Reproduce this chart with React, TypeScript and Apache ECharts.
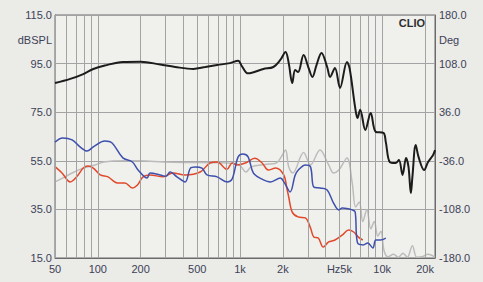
import React, { useEffect, useRef } from "react";
import * as echarts from "echarts";

// Frequency (Hz) / level (dBSPL) pairs
const blackFreq = [50, 64, 79, 93, 112, 150, 200, 275, 350, 470, 570, 690, 850, 970, 1030, 1140, 1460, 1715, 1920, 2090, 2200, 2330, 2440, 2560, 2800, 3020, 3230, 3450, 3740, 4100, 4300, 4650, 5050, 5650, 5900, 6450, 6700, 7000, 7600, 8300, 9000, 10200, 10600, 11300, 12400, 13100, 13900, 14700, 15300, 15900, 16300, 17200, 18000, 19700, 21000, 22800, 23500];
const blackVal = [87, 88.7, 90.7, 92.8, 94.2, 95.7, 95.8, 94.6, 93.6, 92.8, 93.6, 94.4, 95.2, 96.2, 94, 91, 92.8, 93.6, 96.5, 99.8, 95.2, 87, 92.4, 91.5, 98.5, 93.6, 89.5, 94.4, 99.4, 93.6, 89.5, 93.2, 85, 95.7, 93, 77, 72.6, 76, 67.7, 74.7, 66.9, 66.5, 62.7, 54.5, 54.1, 55.3, 49.2, 56.2, 52.5, 41.7, 48.4, 61.5, 56.6, 51.2, 54.5, 57.4, 59.4];

const blueFreq = [50, 56.5, 66, 75, 84, 93, 112, 126, 150, 175, 192, 222, 233, 275, 300, 323, 360, 411, 448, 485, 540, 585, 690, 810, 880, 970, 1050, 1140, 1240, 1380, 1640, 1920, 2050, 2250, 2440, 2570, 2880, 3130, 3300, 3650, 4100, 4550, 4950, 5250, 6150, 6450, 6700, 7350, 7900, 8600, 9000, 9700, 10600];
const blueVal = [62.7, 64.4, 63.6, 60.7, 59, 60.7, 63.1, 62.3, 56.2, 54.5, 51.2, 47.9, 50, 49.2, 48.6, 50.4, 48.4, 46.3, 52, 52.5, 52, 49.2, 48.4, 46.3, 47.5, 56.6, 57.8, 56.6, 50, 47.9, 46.3, 47.9, 46, 42.2, 49, 51.2, 53.3, 52.5, 44.2, 43.8, 43, 37.6, 34.8, 35.6, 34.8, 34, 21.2, 20.4, 21.2, 19.1, 22.4, 22.4, 23.2];

const redFreq = [50, 56, 64, 71, 79, 85, 93, 104, 118, 137, 155, 175, 190, 208, 233, 288, 337, 411, 525, 615, 690, 810, 880, 950, 1090, 1270, 1430, 1580, 1780, 2030, 2130, 2200, 2330, 2560, 2880, 3130, 3300, 3550, 3850, 4200, 4650, 5250, 5800, 6300, 6800, 7300];
const redVal = [52.6, 50, 46.3, 48.4, 52, 52.9, 52, 49.2, 48.4, 45.9, 45.9, 43.8, 45, 48.4, 49.2, 48.4, 50, 49.2, 50.4, 54.1, 54.5, 51.5, 54.1, 53.3, 54.1, 56, 54.1, 51.2, 52, 49.2, 44, 40.1, 33.9, 31.9, 31.5, 27.4, 23.6, 23.2, 19.5, 21.6, 22.4, 24.5, 26.5, 25.7, 23.6, 22.4];

const grayFreq = [50, 56.5, 66, 79, 96, 110, 150, 200, 290, 400, 700, 900, 1000, 1100, 1200, 1500, 1800, 1950, 2090, 2200, 2350, 2800, 3130, 3650, 4200, 4550, 4950, 5650, 6150, 6500, 6900, 7300, 7800, 8300, 8800, 9300, 9800, 10300, 11000, 12000, 13000, 14000, 15000, 16300, 17500, 19000, 21000, 23500];
const grayVal = [46.3, 47.9, 50, 52, 53.3, 54.5, 55, 55, 54.5, 54.3, 54.2, 54, 53, 50.4, 52.5, 53.5, 54.1, 56.6, 59.4, 52.5, 50, 58.4, 53.3, 59.4, 53.3, 50, 51.2, 56.2, 45.9, 36, 38, 30, 35, 27, 30, 24, 26, 18, 15.5, 16.5, 15.3, 17, 15.3, 20, 15.3, 15.5, 16.5, 15.3];

// Axis / grid definitions
const gridFreqs = [50, 60, 70, 80, 90, 100, 200, 300, 400, 500, 600, 700, 800, 900, 1000, 2000, 3000, 4000, 5000, 6000, 7000, 8000, 9000, 10000, 20000];
const freqLabels: Record<number, string> = { 50: "50", 100: "100", 200: "200", 500: "500", 1000: "1k", 2000: "2k", 5000: "Hz5k", 10000: "10k", 20000: "20k" };
const leftMin = 15, leftMax = 115, leftStep = 20;
const rightMin = -180, rightMax = 180, rightStep = 72;
const xMin = 50, xMax = 23500;

const pairs = (f: number[], v: number[]) => f.map((x, i) => [x, v[i]]);

const TEXT = "#3c4257";
const FONT = "Liberation Sans, Arial, sans-serif";

export default function App() {
  const ref = useRef<HTMLDivElement>(null);
  useEffect(() => {
    document.body.style.margin = "0";
    const chart = echarts.init(ref.current!, undefined, { renderer: "svg" });
    const lineSeries = (name: string, f: number[], v: number[], color: string, width: number, z: number) => ({
      name,
      type: "line",
      data: pairs(f, v),
      showSymbol: false,
      smooth: 0.35,
      clip: true,
      z,
      lineStyle: { color, width },
      itemStyle: { color },
    });
    chart.setOption({
      animation: false,
      backgroundColor: "#ebebe7",
      textStyle: { fontFamily: FONT },
      grid: { left: 55, right: 48, top: 15, bottom: 24, show: true, borderColor: "#6b6b6b", borderWidth: 1, backgroundColor: "#f0f0ed" },
      xAxis: {
        type: "log",
        min: xMin,
        max: xMax,
        axisLabel: { show: false },
        axisTick: { show: false },
        splitLine: { show: false },
        axisLine: { show: true, onZero: false, lineStyle: { color: "#6b6b6b" } },
      },
      yAxis: [
        {
          type: "value",
          min: leftMin,
          max: leftMax,
          interval: leftStep,
          position: "left",
          axisLine: { show: true, onZero: false, lineStyle: { color: "#6b6b6b" } },
          axisTick: { show: false },
          splitLine: { show: true, lineStyle: { color: "#a3a3a3", width: 1 } },
          axisLabel: { formatter: (v: number) => v.toFixed(1), color: TEXT, fontSize: 11, margin: 3, fontFamily: FONT },
        },
        {
          type: "value",
          min: rightMin,
          max: rightMax,
          interval: rightStep,
          position: "right",
          axisLine: { show: true, onZero: false, lineStyle: { color: "#6b6b6b" } },
          axisTick: { show: false },
          splitLine: { show: false },
          axisLabel: { formatter: (v: number) => v.toFixed(1), color: TEXT, fontSize: 11, margin: 4, fontFamily: FONT },
        },
      ],
      graphic: [
        { type: "text", right: 431, top: 34, style: { text: "dBSPL", fill: TEXT, font: `11px ${FONT}` } },
        { type: "text", left: 439, top: 34, style: { text: "Deg", fill: TEXT, font: `11px ${FONT}` } },
        { type: "text", right: 58, top: 17, z: 10, style: { text: "CLIO", fill: "#2e2e2e", font: `bold 11px ${FONT}` } },
      ],
      series: [
        {
          name: "grid",
          type: "line",
          data: [],
          z: 1,
          markLine: {
            silent: true,
            symbol: ["none", "none"],
            animation: false,
            lineStyle: { color: "#a3a3a3", width: 1, type: "solid" },
            label: { show: false },
            data: gridFreqs.map((f) => ({
              xAxis: f,
              label: freqLabels[f]
                ? { show: true, position: "start", formatter: freqLabels[f], color: TEXT, fontSize: 11, distance: 5, fontFamily: FONT }
                : { show: false },
            })),
          },
        },
        lineSeries("gray", grayFreq, grayVal, "#bcbcbc", 1.5, 3),
        lineSeries("red", redFreq, redVal, "#e2482a", 1.5, 4),
        lineSeries("blue", blueFreq, blueVal, "#3d50ad", 1.5, 5),
        lineSeries("black", blackFreq, blackVal, "#1c1c1c", 2, 6),
      ],
    });
    return () => chart.dispose();
  }, []);
  return <div ref={ref} style={{ position: "absolute", left: 0, top: 0, width: 483, height: 282 }} />;
}
